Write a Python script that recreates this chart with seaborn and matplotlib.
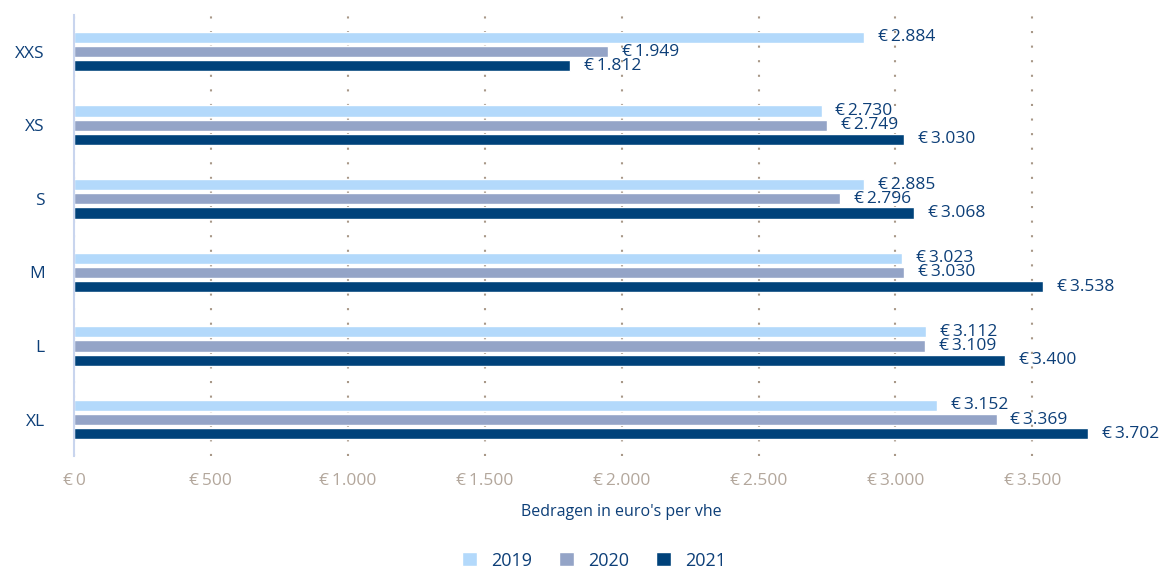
import pandas as pd
import matplotlib.pyplot as plt
import seaborn as sns

# ==========================================
# DATA
# ==========================================

sizes = ["XXS", "XS", "S", "M", "L", "XL"]
years = ["2019", "2020", "2021"]
values_2019 = [2884, 2730, 2885, 3023, 3112, 3152]
values_2020 = [1949, 2749, 2796, 3030, 3109, 3369]
values_2021 = [1812, 3030, 3068, 3538, 3400, 3702]
x_ticks = [0, 500, 1000, 1500, 2000, 2500, 3000, 3500]

df = pd.DataFrame({
    "Grootte": sizes * 3,
    "Jaar": [y for y in years for _ in sizes],
    "Bedrag": values_2019 + values_2020 + values_2021,
})

# ==========================================
# STYLE
# ==========================================

sns.set_style("white")
plt.rcParams['font.family'] = ['Open Sans', 'DejaVu Sans']

colors = ["#b3d9fb", "#94a4c7", "#00427a"]
text_blue = "#0d3f78"
tick_grey = "#b3a79c"


def euro(v):
    return "€\u2009" + f"{v:,.0f}".replace(",", ".")


# ==========================================
# PLOT
# ==========================================

fig = plt.figure(figsize=(11.6, 5.69), dpi=100)
ax = fig.add_axes([0.0638, 0.198, 0.897, 0.776])

sns.barplot(data=df, y="Grootte", x="Bedrag", hue="Jaar", order=sizes,
            hue_order=years, palette=colors, orient="h", width=0.58, gap=0.22,
            saturation=1, ax=ax, legend=True)

for container in ax.containers:
    ax.bar_label(container, labels=[euro(b.get_width()) for b in container],
                 padding=10, color=text_blue, fontsize=12.5, clip_on=False)

ax.set_xlim(0, 3800)
ax.set_ylim(5.5, -0.5)
ax.set_xticks(x_ticks)
ax.set_xticklabels([euro(v) for v in x_ticks], color=tick_grey, fontsize=12.5)
ax.tick_params(axis="x", length=0, pad=12)
ax.tick_params(axis="y", length=0, pad=21, labelcolor=text_blue, labelsize=12.5)

ax.grid(axis="x", color="#a89888", linestyle=(0, (1, 6)), linewidth=1.5)
ax.grid(axis="y", visible=False)
ax.set_axisbelow(True)

for side in ["top", "right", "bottom"]:
    ax.spines[side].set_visible(False)
ax.spines["left"].set_color("#c9d5ee")
ax.spines["left"].set_linewidth(1.5)

ax.set_ylabel("")
ax.set_xlabel("Bedragen in euro's per vhe", color=text_blue, fontsize=11.5)
ax.xaxis.set_label_coords(0.526, -0.108)

handles, labels = ax.get_legend_handles_labels()
ax.legend(handles, labels, loc="center", bbox_to_anchor=(0.5, -0.236),
          ncol=3, frameon=False, fontsize=13, labelcolor=text_blue,
          handlelength=0.8, handleheight=0.8, columnspacing=1.5,
          handletextpad=0.8)

plt.savefig("out.png", dpi=100)
